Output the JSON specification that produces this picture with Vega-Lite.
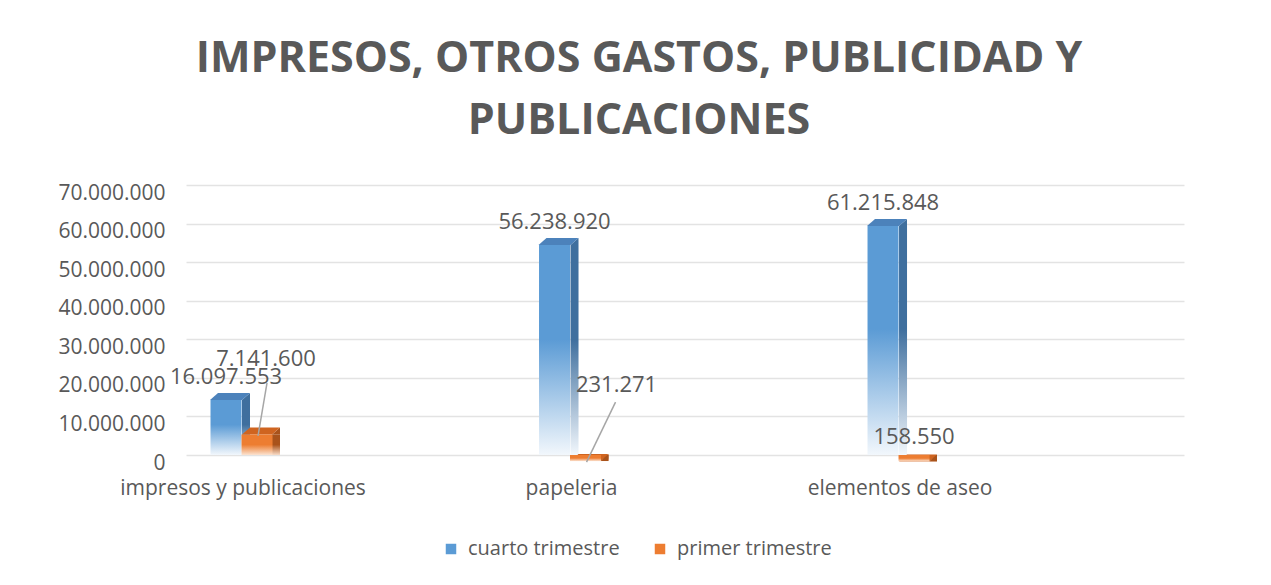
{
  "$schema": "https://vega.github.io/schema/vega-lite/v6.json",
  "autosize": {"type": "none"},
  "width": 998,
  "height": 270,
  "padding": {"left": 186, "top": 185, "right": 87, "bottom": 130},
  "background": "white",
  "title": {
    "text": ["IMPRESOS, OTROS GASTOS, PUBLICIDAD Y", "PUBLICACIONES"],
    "font": "Open Sans",
    "fontSize": 43,
    "fontWeight": "bold",
    "color": "#595959",
    "anchor": "middle",
    "frame": "group",
    "dx": -46,
    "offset": 39,
    "lineHeight": 62
  },
  "config": {
    "view": {"stroke": null},
    "locale": {"number": {"decimal": ",", "thousands": ".", "grouping": [3], "currency": ["$", ""]}},
    "font": "Open Sans"
  },
  "data": {
    "values": [
      {"categoria": "impresos y publicaciones", "serie": "cuarto trimestre", "valor": 16097553},
      {"categoria": "impresos y publicaciones", "serie": "primer trimestre", "valor": 7141600},
      {"categoria": "papeleria", "serie": "cuarto trimestre", "valor": 56238920},
      {"categoria": "papeleria", "serie": "primer trimestre", "valor": 231271},
      {"categoria": "elementos de aseo", "serie": "cuarto trimestre", "valor": 61215848},
      {"categoria": "elementos de aseo", "serie": "primer trimestre", "valor": 158550}
    ]
  },
  "encoding": {
    "x": {
      "field": "categoria",
      "type": "nominal",
      "sort": null,
      "title": null,
      "scale": {"paddingInner": 0.9056, "paddingOuter": 0.4718, "align": 0.1565},
      "axis": {"labelAngle": 0, "labelFontSize": 21, "labelColor": "#595959", "labelFont": "Open Sans", "domain": false, "ticks": false, "labelPadding": 22, "labelOffset": -7, "labelLimit": 400}
    },
    "y": {
      "field": "valor",
      "type": "quantitative",
      "stack": null,
      "title": null,
      "scale": {"domain": [0, 70000000], "nice": false},
      "axis": {"values": [0, 10000000, 20000000, 30000000, 40000000, 50000000, 60000000, 70000000], "format": ",d", "labelFontSize": 21, "labelColor": "#595959", "labelFont": "Open Sans", "domain": false, "ticks": false, "labelPadding": 21, "labelOffset": 8, "gridColor": "#e3e3e3", "gridWidth": 1.5}
    }
  },
  "layer": [
    {
      "mark": {"type": "bar"},
      "encoding": {
        "y2": {"field": "valor"},
        "color": {
          "field": "serie",
          "type": "nominal",
          "scale": {"domain": ["cuarto trimestre", "primer trimestre"], "range": ["#5b9bd5", "#ed7d31"]},
          "legend": {"title": null, "orient": "none", "legendX": 255, "legendY": 354, "direction": "horizontal", "symbolType": "square", "symbolSize": 110, "labelFontSize": 20, "labelColor": "#595959", "labelFont": "Open Sans", "labelOffset": 7, "labelLimit": 300, "columnPadding": 30, "symbolOpacity": 1}
        }
      }
    },
    {
      "transform": [{"filter": "datum.serie === 'cuarto trimestre'"}],
      "layer": [
        {
          "mark": {"type": "bar", "width": 8, "xOffset": -4, "yOffset": 7,
            "fill": {"gradient": "linear", "x1": 0, "y1": 0, "x2": 0, "y2": 1, "stops": [{"offset": 0, "color": "#3f6f9e"}, {"offset": 0.45, "color": "#3f6f9e"}, {"offset": 1, "color": "#f2f7fc"}]}}
        },
        {
          "mark": {"type": "point", "shape": "M-8,7L0,0L0,7Z", "size": 4, "filled": true, "fill": "#3f6f9e", "strokeWidth": 0, "opacity": 1}
        },
        {
          "mark": {"type": "point", "shape": "M-40,7L-8,7L0,0L-32,0Z", "size": 4, "filled": true, "fill": "#4c82bb", "strokeWidth": 0, "opacity": 1}
        },
        {
          "mark": {"type": "bar", "xOffset": -24, "yOffset": 7, "y2Offset": 7,
            "fill": {"gradient": "linear", "x1": 0, "y1": 0, "x2": 0, "y2": 1, "stops": [{"offset": 0, "color": "#5b9bd5"}, {"offset": 0.45, "color": "#5b9bd5"}, {"offset": 1, "color": "#f2f7fc"}]}}
        },
        {
          "mark": {"type": "text", "dx": -24, "dy": -16, "fontSize": 22, "color": "#595959", "baseline": "middle", "font": "Open Sans"},
          "encoding": {"text": {"field": "valor", "type": "quantitative", "format": ",d"}}
        }
      ]
    },
    {
      "transform": [{"filter": "datum.serie === 'primer trimestre'"}],
      "layer": [
        {
          "mark": {"type": "bar", "width": 8, "xOffset": 26, "yOffset": 7,
            "fill": {"gradient": "linear", "x1": 0, "y1": 0, "x2": 0, "y2": 1, "stops": [{"offset": 0, "color": "#a9531b"}, {"offset": 0.5, "color": "#a9531b"}, {"offset": 1, "color": "#f8dcc8"}]}}
        },
        {
          "mark": {"type": "point", "shape": "M22,7L30,0L30,7Z", "size": 4, "filled": true, "fill": "#a9531b", "strokeWidth": 0, "opacity": 1}
        },
        {
          "mark": {"type": "point", "shape": "M-8,7L22,7L30,0L0,0Z", "size": 4, "filled": true, "fill": "#cf6420", "strokeWidth": 0, "opacity": 1}
        },
        {
          "mark": {"type": "bar", "xOffset": 7, "yOffset": 7, "y2Offset": 7,
            "fill": {"gradient": "linear", "x1": 0, "y1": 0, "x2": 0, "y2": 1, "stops": [{"offset": 0, "color": "#ed7d31"}, {"offset": 0.5, "color": "#ed7d31"}, {"offset": 1, "color": "#fbe3d1"}]}}
        },
        {
          "transform": [{"filter": "datum.categoria === 'impresos y publicaciones'"}],
          "layer": [
            {"mark": {"type": "point", "shape": "M17,-44.5L8,8.5", "size": 4, "filled": false, "stroke": "#a6a6a6", "strokeWidth": 1.5, "opacity": 1}},
            {"mark": {"type": "text", "dx": 16, "dy": -68, "fontSize": 22, "color": "#595959", "baseline": "middle", "font": "Open Sans"},
             "encoding": {"text": {"field": "valor", "type": "quantitative", "format": ",d"}}}
          ]
        },
        {
          "transform": [{"filter": "datum.categoria === 'papeleria'"}],
          "layer": [
            {"mark": {"type": "point", "shape": "M37,-52L8,8", "size": 4, "filled": false, "stroke": "#a6a6a6", "strokeWidth": 1.5, "opacity": 1}},
            {"mark": {"type": "text", "dx": 38, "dy": -69, "fontSize": 22, "color": "#595959", "baseline": "middle", "font": "Open Sans"},
             "encoding": {"text": {"field": "valor", "type": "quantitative", "format": ",d"}}}
          ]
        },
        {
          "transform": [{"filter": "datum.categoria === 'elementos de aseo'"}],
          "mark": {"type": "text", "dx": 7, "dy": -17, "fontSize": 22, "color": "#595959", "baseline": "middle", "font": "Open Sans"},
          "encoding": {"text": {"field": "valor", "type": "quantitative", "format": ",d"}}
        }
      ]
    }
  ]
}
